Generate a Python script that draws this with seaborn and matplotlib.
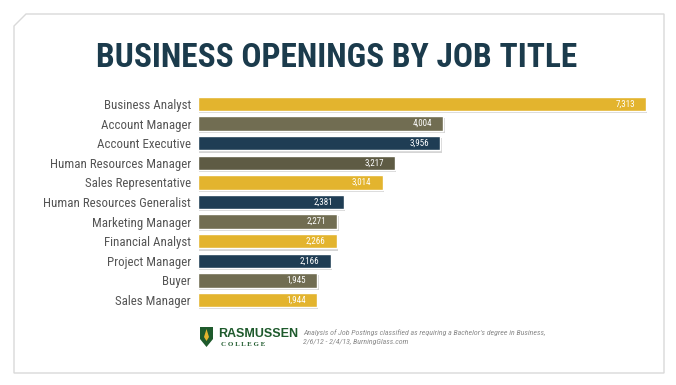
import matplotlib
matplotlib.use("Agg")
import matplotlib.pyplot as plt
import matplotlib.patheffects as pe
from matplotlib.patches import Polygon
import seaborn as sns
import pandas as pd

categories = ["Business Analyst", "Account Manager", "Account Executive",
              "Human Resources Manager", "Sales Representative",
              "Human Resources Generalist", "Marketing Manager",
              "Financial Analyst", "Project Manager", "Buyer", "Sales Manager"]
values = [7313, 4004, 3956, 3217, 3014, 2381, 2271, 2266, 2166, 1945, 1944]
value_labels = ["7,313", "4,004", "3,956", "3,217", "3,014", "2,381",
                "2,271", "2,266", "2,166", "1,945", "1,944"]
title = "BUSINESS OPENINGS BY JOB TITLE"
source = ("Analysis of Job Postings classified as requiring a Bachelor's degree in Business,\n"
          "2/6/12 - 2/4/13, BurningGlass.com")

GOLD = "#E3B42E"
OLIVE = "#716D52"
OLIVE_D = "#5E5B44"
NAVY = "#1F3D54"
bar_colors = [GOLD, OLIVE, NAVY, OLIVE_D, GOLD, NAVY, OLIVE, GOLD, NAVY, OLIVE, GOLD]

sns.set_theme(style="white")
FONT = ['Roboto Condensed', 'Roboto', 'DejaVu Sans']
plt.rcParams['font.family'] = FONT

W, H = 676, 385
fig = plt.figure(figsize=(W / 100, H / 100), dpi=100)
fig.patch.set_facecolor("white")

def fx(x): return x / W
def fy(y): return 1 - y / H

# card border with cut corner
card = Polygon([(fx(14), fy(26)), (fx(26), fy(14)), (fx(664), fy(14)),
                (fx(664), fy(373)), (fx(14), fy(373))], closed=True,
               transform=fig.transFigure, facecolor="none", edgecolor="#D9D9D9",
               linewidth=1.0, zorder=-5)
fig.patches.append(card)

df = pd.DataFrame({"category": categories, "value": values})
ax = fig.add_axes([fx(198), fy(309.8), fx(660) - fx(198), fy(94.2) - fy(309.8)])
ax.set_facecolor("none")
sns.barplot(data=df, x="value", y="category", hue="category",
            palette=dict(zip(categories, bar_colors)), legend=False,
            width=0.74, ax=ax, saturation=1)
ax.set_xlim(0, 462 / (448 / 7313))
ax.set_ylim(len(categories) - 0.5, -0.5)
for p in ax.patches:
    p.set_path_effects([pe.SimplePatchShadow(offset=(1.0, -1.5), shadow_rgbFace="#777777", alpha=0.3),
                        pe.Normal()])
for i, (v, lab) in enumerate(zip(values, value_labels)):
    ax.annotate(lab, xy=(v, i), xytext=(-8, 0), textcoords="offset points",
                ha="right", va="center", color="white", fontsize=6.5, family=FONT)
ax.set_xlabel("")
ax.set_ylabel("")
ax.set_xticks([])
ax.tick_params(axis="y", length=0, pad=5, labelsize=9.3, labelcolor="#555555")
for s in ax.spines.values():
    s.set_visible(False)

fig.text(fx(337), fy(58), title, ha="center", va="center", fontsize=24,
         fontweight="bold", color="#1B3B4C", family=FONT)

# logo
shield = Polygon([(fx(200), fy(327)), (fx(213), fy(327)), (fx(213), fy(339)),
                  (fx(206.5), fy(347)), (fx(200), fy(339))], closed=True,
                 transform=fig.transFigure, facecolor="#1E5A2C", edgecolor="none")
fig.patches.append(shield)
flame = Polygon([(fx(204), fy(337)), (fx(206.5), fy(329)), (fx(209), fy(337)),
                 (fx(206.5), fy(341))], closed=True, transform=fig.transFigure,
                facecolor="#E3B42E", edgecolor="none")
fig.patches.append(flame)
fig.text(fx(218), fy(334), "RASMUSSEN", ha="left", va="center", fontsize=9,
         fontweight="bold", color="#1E5A2C", family=['Liberation Sans', 'DejaVu Sans'])
fig.text(fx(221), fy(345), "C O L L E G E", ha="left", va="center", fontsize=5,
         fontweight="bold", color="#1E5A2C", family=['Liberation Serif', 'DejaVu Serif'])
fig.text(fx(303), fy(337), source, ha="left", va="center", fontsize=5.7,
         style="italic", color="#8A8A8A", linespacing=1.6, family=FONT)

fig.savefig("out.png", dpi=100, facecolor="white")
